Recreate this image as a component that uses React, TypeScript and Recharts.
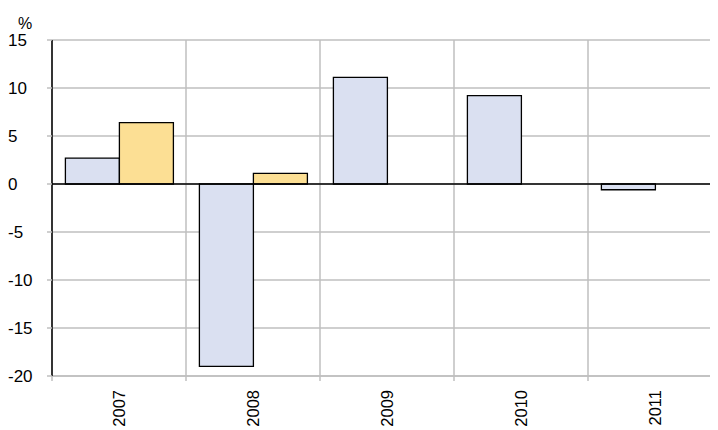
import React from "react";
import {
  BarChart,
  Bar,
  XAxis,
  YAxis,
  CartesianGrid,
  ReferenceLine,
} from "recharts";

const categories = ["2007", "2008", "2009", "2010", "2011"];
const seriesA = [2.7, -19.0, 11.1, 9.2, -0.6];
const seriesB = [6.4, 1.1, null, null, null];
const yTicks = [-20, -15, -10, -5, 0, 5, 10, 15];
const unitLabel = "%";

const data = categories.map((c, i) => ({ cat: c, a: seriesA[i], b: seriesB[i] }));

const CHART_W = 716;
const CHART_H = 422;
const MARGIN = { top: 32, right: 2, bottom: 0, left: 0 };
const Y_AXIS_W = 44;
const X_AXIS_H = 54;
const FONT = "Liberation Sans, Arial, sans-serif";
const GRID = "#bfbfbf";

const plotW = CHART_W - MARGIN.left - MARGIN.right - Y_AXIS_W;
const halfBand = plotW / categories.length / 2;

const YTick = (props: any) => {
  const { y, payload } = props;
  return (
    <text x={0} y={y} dy={6} textAnchor="start" fontSize={17} fontFamily={FONT} fill="#000">
      {payload.value}
    </text>
  );
};

const XTick = (props: any) => {
  const { x, y, payload } = props;
  const axisY = y - 8;
  return (
    <g>
      <line x1={x - halfBand} x2={x - halfBand} y1={axisY} y2={axisY + 5} stroke={GRID} strokeWidth={1.5} />
      <text
        x={x}
        y={axisY + 14}
        dy="0.36em"
        transform={`rotate(-90, ${x}, ${axisY + 14})`}
        textAnchor="end"
        fontSize={16.5}
        fontFamily={FONT}
        fill="#000"
      >
        {payload.value}
      </text>
    </g>
  );
};

export default function App() {
  return (
    <div style={{ width: 710, height: CHART_H, overflow: "hidden", position: "relative" }}>
      <BarChart
        width={CHART_W}
        height={CHART_H}
        data={data}
        margin={MARGIN}
        barCategoryGap="10%"
        barGap={0}
      >
        <CartesianGrid
          stroke={GRID}
          strokeWidth={1.5}
          verticalCoordinatesGenerator={({ offset }: any) =>
            categories.map((_, i) => offset.left + (i * offset.width) / categories.length)
          }
        />
        <XAxis
          dataKey="cat"
          height={X_AXIS_H}
          axisLine={{ stroke: GRID, strokeWidth: 1.5 }}
          tickLine={false}
          tick={<XTick />}
          interval={0}
        />
        <YAxis
          domain={[-20, 15]}
          ticks={yTicks}
          width={Y_AXIS_W}
          axisLine={{ stroke: "#000", strokeWidth: 1.5 }}
          tickLine={{ stroke: GRID, strokeWidth: 1.5 }}
          tickSize={5}
          tick={<YTick />}
          interval={0}
        />
        <ReferenceLine y={0} stroke="#000" strokeWidth={1.5} />
        <Bar dataKey="a" fill="#dae0f1" stroke="#000" strokeWidth={1.3} isAnimationActive={false} />
        <Bar dataKey="b" fill="#fcdf94" stroke="#000" strokeWidth={1.3} isAnimationActive={false} />
        <text x={10} y={21} fontSize={16} fontFamily={FONT} fill="#000">
          {unitLabel}
        </text>
      </BarChart>
    </div>
  );
}
